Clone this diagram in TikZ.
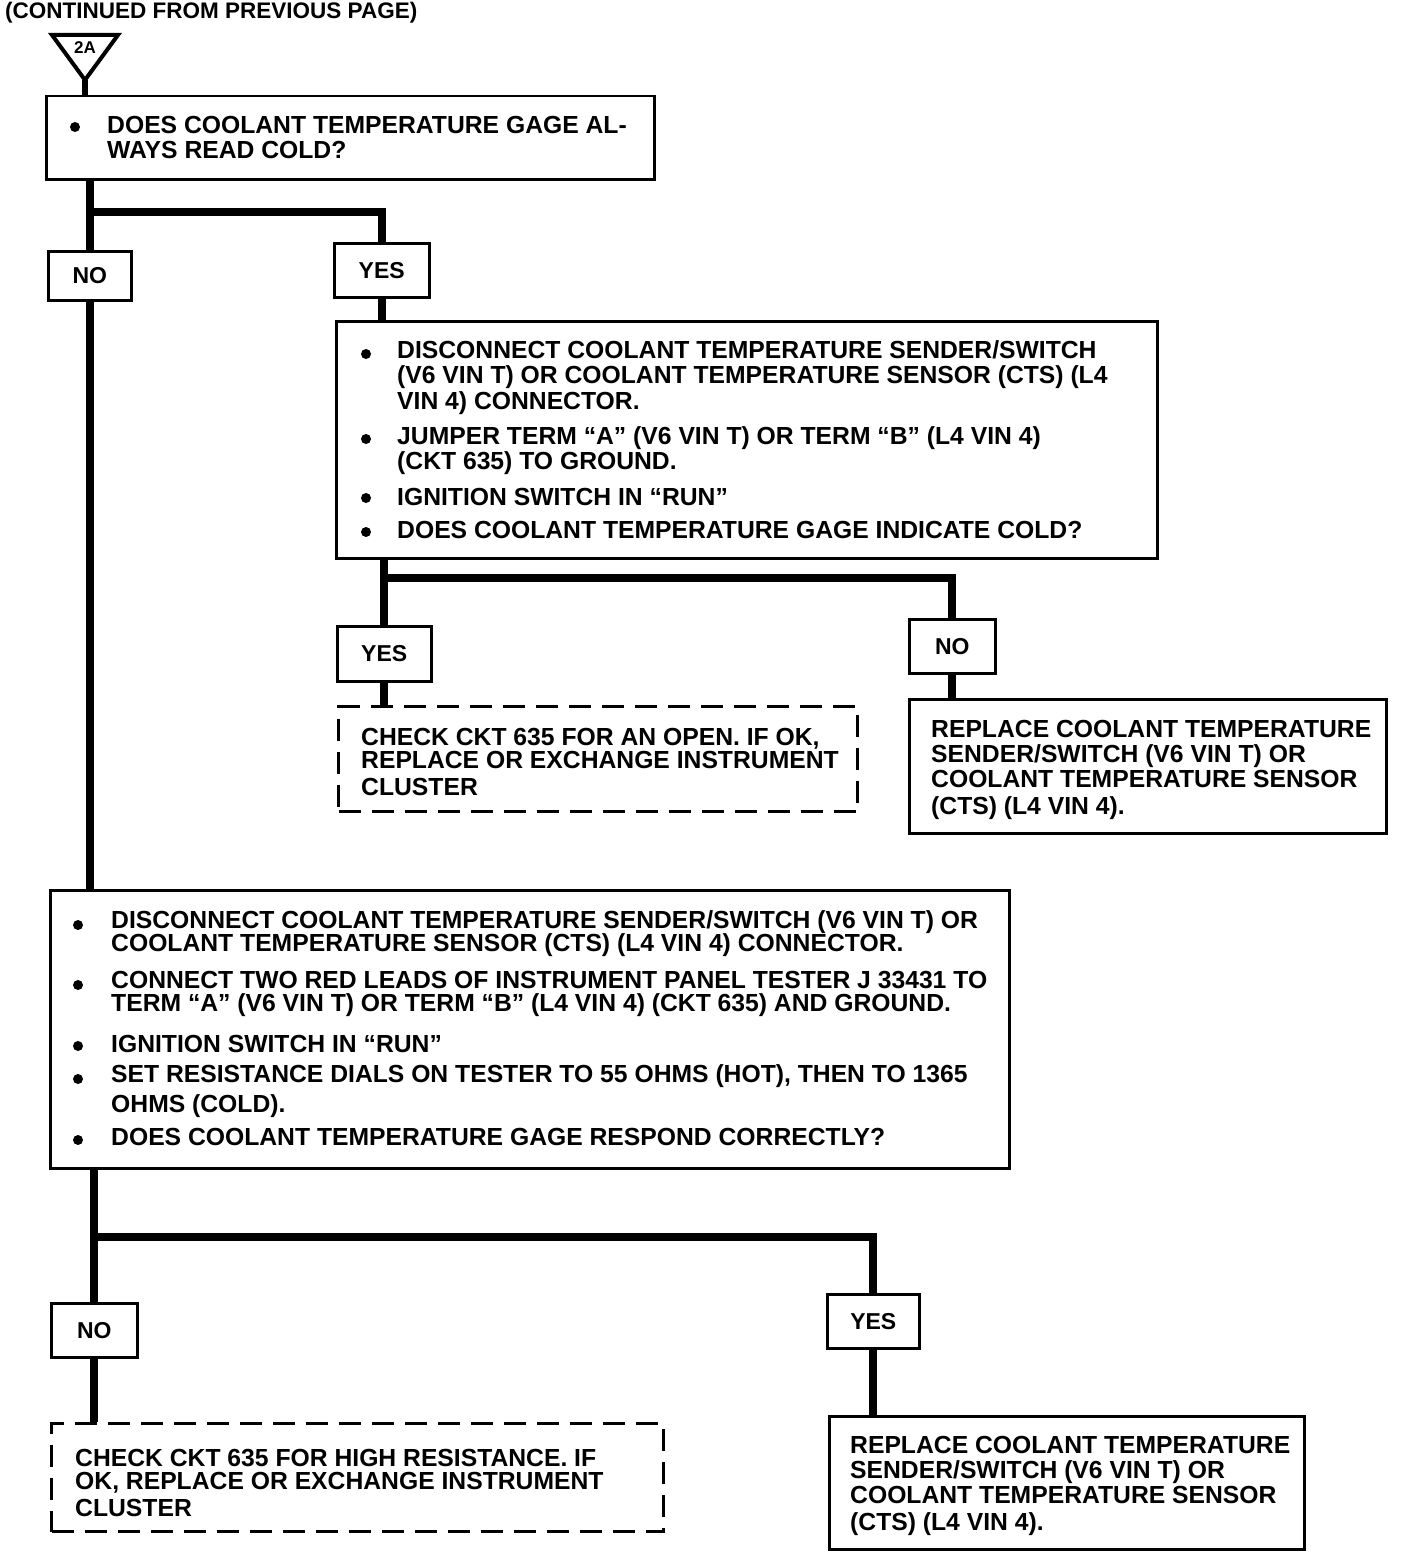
\documentclass[tikz,border=0pt]{standalone}
\usepackage{fontspec}
\setmainfont{Liberation Sans}
\begin{document}
\begin{tikzpicture}[x=1pt,y=-1pt,
  box/.style={draw, line width=2.5pt, inner sep=0pt, anchor=north west, fill=white},
  dbox/.style={draw, line width=3pt, dash pattern=on 22pt off 11pt, inner sep=0pt, anchor=north west},
  lbl/.style={draw, line width=2.5pt, inner sep=0pt, anchor=north west, font=\fontsize{23}{24}\selectfont\bfseries},
  conn/.style={line width=8pt},
  txt/.style={font=\fontsize{24.7}{25}\selectfont\bfseries, inner sep=0pt, anchor=base west},
  bul/.style={circle, fill, inner sep=0pt, minimum size=10pt}]
\useasboundingbox (0,0) rectangle (1408,1552);
% title and off-page connector
\node[font=\fontsize{22.5}{24}\selectfont\bfseries, inner sep=0pt, anchor=base west] (title) at (5,19) {(CONTINUED FROM PREVIOUS PAGE)};
\draw[line width=4pt, line join=miter] (52,35) -- (118,35) -- (85,80) -- cycle;
\coordinate (tri) at (85,80);
\node[font=\fontsize{17}{17}\selectfont\bfseries, inner sep=0pt] (twoA) at (85,48) {2A};
% boxes
\node[box, minimum width=608pt, minimum height=83pt] (b1) at (45,95) {};
\node[lbl, minimum width=83pt, minimum height=49pt] (no1) at (47,250) {NO};
\node[lbl, minimum width=95pt, minimum height=54pt] (yes1) at (333,242) {YES};
\node[box, minimum width=821pt, minimum height=237pt] (b2) at (335,320) {};
\node[lbl, minimum width=94pt, minimum height=55pt] (yes2) at (336,625) {YES};
\node[lbl, minimum width=86pt, minimum height=54pt] (no2) at (908,618) {NO};
\node[dbox, minimum width=519pt, minimum height=105pt] (b3) at (337,705) {};
\node[box, minimum width=477pt, minimum height=134pt] (b5) at (908,698) {};
\node[box, minimum width=959pt, minimum height=278pt] (b4) at (49,889) {};
\node[lbl, minimum width=86pt, minimum height=54pt] (no3) at (50,1302) {NO};
\node[lbl, minimum width=92pt, minimum height=54pt] (yes3) at (826,1293) {YES};
\node[dbox, minimum width=612pt, minimum height=108pt] (b6) at (50,1422) {};
\node[box, minimum width=475pt, minimum height=133pt] (b7) at (828,1415) {};
% connectors
\draw[line width=6pt] (tri) -- (tri |- b1.north);
\coordinate (j1) at (87,212);
\draw[conn] (b1.south -| no1.north) -- (no1.north);
\draw[conn, line join=miter] (j1) -| (yes1.north);
\draw[conn] (yes1.south) -- (yes1.south |- b2.north);
\draw[conn] (no1.south) -- (no1.south |- b4.north);
\coordinate (j2) at (383,578);
\draw[conn] (yes2.north |- b2.south) -- (yes2.north);
\draw[conn, line join=miter] (j2) -| (no2.north);
\draw[conn] (yes2.south) -- (yes2.south |- b3.north);
\draw[conn] (no2.south) -- (no2.south |- b5.north);
\coordinate (j3) at (92,1237);
\draw[conn] (no3.north |- b4.south) -- (no3.north);
\draw[conn, line join=miter] (j3) -| (yes3.north);
\draw[conn] (no3.south) -- (no3.south |- b6.north);
\draw[conn] (yes3.south) -- (yes3.south |- b7.north);
% box 1 text
\node[bul] (p11) at (75,127) {};
\node[txt] (t11) at (107,134) {DOES COOLANT TEMPERATURE GAGE AL-};
\node[txt] (t12) at (107,158) {WAYS READ COLD?};
% box 2 text
\node[bul] (p21) at (366,354) {};
\node[bul] (p22) at (366,439) {};
\node[bul] (p23) at (366,498) {};
\node[bul] (p24) at (366,532) {};
\node[txt] (t21) at (397,358) {DISCONNECT COOLANT TEMPERATURE SENDER/SWITCH};
\node[txt] (t22) at (397,383) {(V6 VIN T) OR COOLANT TEMPERATURE SENSOR (CTS) (L4};
\node[txt] (t23) at (397,409) {VIN 4) CONNECTOR.};
\node[txt] (t24) at (397,444) {JUMPER TERM “A” (V6 VIN T) OR TERM “B” (L4 VIN 4)};
\node[txt] (t25) at (397,469) {(CKT 635) TO GROUND.};
\node[txt] (t26) at (397,505) {IGNITION SWITCH IN “RUN”};
\node[txt] (t27) at (397,538) {DOES COOLANT TEMPERATURE GAGE INDICATE COLD?};
% box 3 text
\node[txt] (t31) at (361,745) {CHECK CKT 635 FOR AN OPEN. IF OK,};
\node[txt] (t32) at (361,768) {REPLACE OR EXCHANGE INSTRUMENT};
\node[txt] (t33) at (361,795) {CLUSTER};
% box 5 text
\node[txt] (t51) at (931,737) {REPLACE COOLANT TEMPERATURE};
\node[txt] (t52) at (931,762) {SENDER/SWITCH (V6 VIN T) OR};
\node[txt] (t53) at (931,787) {COOLANT TEMPERATURE SENSOR};
\node[txt] (t54) at (931,814) {(CTS) (L4 VIN 4).};
% box 4 text
\node[bul] (p41) at (78,925) {};
\node[bul] (p42) at (78,985) {};
\node[bul] (p43) at (78,1046) {};
\node[bul] (p44) at (78,1079) {};
\node[bul] (p45) at (78,1140) {};
\node[txt] (t41) at (111,928) {DISCONNECT COOLANT TEMPERATURE SENDER/SWITCH (V6 VIN T) OR};
\node[txt] (t42) at (111,951) {COOLANT TEMPERATURE SENSOR (CTS) (L4 VIN 4) CONNECTOR.};
\node[txt] (t43) at (111,988) {CONNECT TWO RED LEADS OF INSTRUMENT PANEL TESTER J 33431 TO};
\node[txt] (t44) at (111,1011) {TERM “A” (V6 VIN T) OR TERM “B” (L4 VIN 4) (CKT 635) AND GROUND.};
\node[txt] (t45) at (111,1052) {IGNITION SWITCH IN “RUN”};
\node[txt] (t46) at (111,1082) {SET RESISTANCE DIALS ON TESTER TO 55 OHMS (HOT), THEN TO 1365};
\node[txt] (t47) at (111,1112) {OHMS (COLD).};
\node[txt] (t48) at (111,1145) {DOES COOLANT TEMPERATURE GAGE RESPOND CORRECTLY?};
% box 6 text
\node[txt] (t61) at (75,1466) {CHECK CKT 635 FOR HIGH RESISTANCE. IF};
\node[txt] (t62) at (75,1489) {OK, REPLACE OR EXCHANGE INSTRUMENT};
\node[txt] (t63) at (75,1516) {CLUSTER};
% box 7 text
\node[txt] (t71) at (850,1453) {REPLACE COOLANT TEMPERATURE};
\node[txt] (t72) at (850,1478) {SENDER/SWITCH (V6 VIN T) OR};
\node[txt] (t73) at (850,1503) {COOLANT TEMPERATURE SENSOR};
\node[txt] (t74) at (850,1530) {(CTS) (L4 VIN 4).};
\end{tikzpicture}
\end{document}
